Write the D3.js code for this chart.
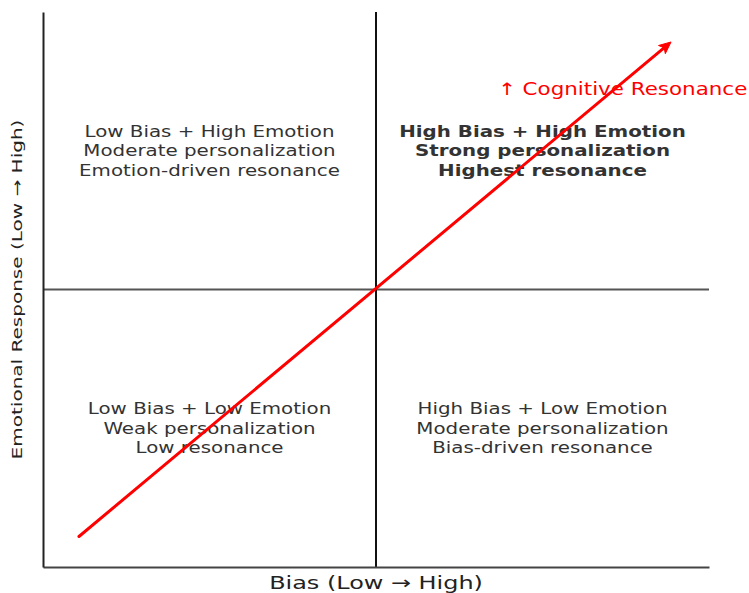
<!DOCTYPE html>
<html>
<head>
<meta charset="utf-8">
<script src="https://cdn.jsdelivr.net/npm/d3@7"></script>
<style>
  body { margin: 0; background: #fff; }
  text { font-family: "DejaVu Sans", sans-serif; }
</style>
</head>
<body>
<div id="chart"></div>
<script>
// quadrant labels (data coords 0..1)
var quadrantX = [0.25, 0.75, 0.25, 0.75];
var quadrantY = [0.75, 0.75, 0.25, 0.25];
var quadrantBold = [false, true, false, false];
var quadrantLines = [
  ["Low Bias + High Emotion", "Moderate personalization", "Emotion-driven resonance"],
  ["High Bias + High Emotion", "Strong personalization", "Highest resonance"],
  ["Low Bias + Low Emotion", "Weak personalization", "Low resonance"],
  ["High Bias + Low Emotion", "Moderate personalization", "Bias-driven resonance"]
];
// diagonal arrow
var arrowX = [0.054, 0.943];
var arrowY = [0.055, 0.946];
var arrowLabel = "\u2191 Cognitive Resonance";
var arrowLabelPos = [0.683, 0.861];
var xLabel = "Bias (Low \u2192 High)";
var yLabel = "Emotional Response (Low \u2192 High)";

var svgWidth = 749;
var svgHeight = 593;
var margin = { top: 12, right: 40, bottom: 26, left: 43 };
var width = svgWidth - margin.left - margin.right;
var height = svgHeight - margin.top - margin.bottom;

var svg = d3.select("#chart")
  .append("svg")
  .attr("width", svgWidth)
  .attr("height", svgHeight);

var chartGroup = svg.append("g")
  .attr("transform", `translate(${margin.left}, ${margin.top})`);

var x = d3.scaleLinear().domain([0, 1]).range([0, width]);
var y = d3.scaleLinear().domain([0, 1]).range([height, 0]);

// quadrant divider lines
chartGroup.append("line")
  .attr("x1", x(0)).attr("x2", x(1))
  .attr("y1", y(0.5)).attr("y2", y(0.5))
  .attr("stroke", "#555").attr("stroke-width", 2);

chartGroup.append("line")
  .attr("x1", x(0.5)).attr("x2", x(0.5))
  .attr("y1", y(0)).attr("y2", y(1))
  .attr("stroke", "#111").attr("stroke-width", 2);

// axes (no ticks, only spines)
chartGroup.append("g")
  .attr("transform", `translate(0, ${height})`)
  .call(d3.axisBottom(x).ticks(0).tickSize(0).tickSizeOuter(0))
  .call(g => g.select(".domain").attr("stroke", "#444").attr("stroke-width", 2));

chartGroup.append("g")
  .call(d3.axisLeft(y).ticks(0).tickSize(0).tickSizeOuter(0))
  .call(g => g.select(".domain").attr("stroke", "#222").attr("stroke-width", 2));

// quadrant texts (glyphs are a bit wider than plain DejaVu in the original)
quadrantLines.forEach(function(lines, i) {
  var cx = x(quadrantX[i]), cy = y(quadrantY[i]);
  var t = chartGroup.append("text")
    .attr("transform", `translate(${cx},${cy}) scale(1.21,1)`)
    .attr("text-anchor", "middle")
    .attr("font-size", "16.4px")
    .attr("fill", "#333")
    .attr("font-weight", quadrantBold[i] ? "bold" : "normal");
  lines.forEach(function(l, j) {
    t.append("tspan")
      .attr("x", 0)
      .attr("y", (j - 1) * 19.5)
      .attr("dy", "0.35em")
      .text(l);
  });
});

// arrow
var x1 = x(arrowX[0]), y1 = y(arrowY[0]), x2 = x(arrowX[1]), y2 = y(arrowY[1]);
var ang = Math.atan2(y2 - y1, x2 - x1);
var headLen = 13, spread = 0.42;
chartGroup.append("line")
  .attr("x1", x1).attr("y1", y1)
  .attr("x2", x2 - 8 * Math.cos(ang)).attr("y2", y2 - 8 * Math.sin(ang))
  .attr("stroke", "red").attr("stroke-width", 3)
  .attr("stroke-linecap", "round");

var hx1 = x2 - headLen * Math.cos(ang - spread), hy1 = y2 - headLen * Math.sin(ang - spread);
var hx2 = x2 - headLen * Math.cos(ang + spread), hy2 = y2 - headLen * Math.sin(ang + spread);
var hxm = x2 - 9 * Math.cos(ang), hym = y2 - 9 * Math.sin(ang);
chartGroup.append("path")
  .attr("d", `M${hx1},${hy1}L${x2},${y2}L${hx2},${hy2}L${hxm},${hym}Z`)
  .attr("fill", "red").attr("stroke", "red").attr("stroke-width", 1)
  .attr("stroke-linejoin", "round");

chartGroup.append("text")
  .attr("transform", `translate(${x(arrowLabelPos[0])},${y(arrowLabelPos[1])}) scale(1.26,1)`)
  .attr("dy", "0.35em")
  .attr("font-size", "17px")
  .attr("fill", "red")
  .text(arrowLabel);

// axis labels
chartGroup.append("text")
  .attr("transform", `translate(${width / 2},${height + 22}) scale(1.33,1)`)
  .attr("text-anchor", "middle")
  .attr("font-size", "18px")
  .attr("fill", "#222")
  .text(xLabel);

chartGroup.append("text")
  .attr("transform", `translate(${-margin.left + 22},${height / 2}) rotate(-90) scale(1.38,1)`)
  .attr("text-anchor", "middle")
  .attr("font-size", "14.5px")
  .attr("fill", "#222")
  .text(yLabel);
</script>
</body>
</html>
